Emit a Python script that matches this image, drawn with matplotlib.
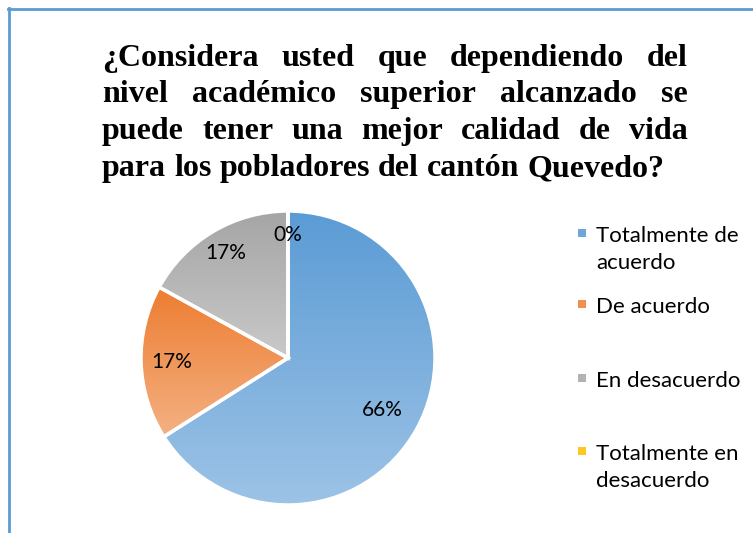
import matplotlib.pyplot as plt
import numpy as np
from matplotlib.colors import LinearSegmentedColormap
from matplotlib.patches import Rectangle
from matplotlib.lines import Line2D

# datos
categorias = ['Totalmente de acuerdo', 'De acuerdo', 'En desacuerdo', 'Totalmente en desacuerdo']
porcentajes = [66, 17, 17, 0]
leyenda_lineas = [['Totalmente de', 'acuerdo'], ['De acuerdo'], ['En desacuerdo'], ['Totalmente en', 'desacuerdo']]
titulo_lineas = ['¿Considera usted que dependiendo del',
                 'nivel académico superior alcanzado se',
                 'puede tener una mejor calidad de vida',
                 'para los pobladores del cantón Quevedo?']

# colores (arriba, abajo) del degradado
degradados = [('#5B9BD5', '#9DC3E6'), ('#ED7D31', '#F4B183'),
              ('#A5A5A5', '#C9C9C9'), ('#FFC000', '#FFD966')]
marcadores = ['#6FA5DA', '#F08F50', '#B3B3B3', '#FFC820']

W, H = 753, 533
fig = plt.figure(figsize=(W / 100, H / 100), dpi=100)

def fx(px):
    return px / W

def fy(py):
    return 1 - py / H

# borde azul
fig.add_artist(Line2D([fx(9), fx(9)], [fy(8), fy(540)], color='#5B9BD5', lw=2))
fig.add_artist(Line2D([fx(8), fx(760)], [fy(9), fy(9)], color='#5B9BD5', lw=2))

# titulo justificado
renderer = fig.canvas.get_renderer()
fuente_titulo = dict(family='Liberation Serif', weight='bold', size=23)
x_izq, x_der = 102, 688
bases = [66, 102, 139, 176]
for i, linea in enumerate(titulo_lineas):
    palabras = linea.split(' ')
    textos = [fig.text(0, fy(bases[i]), p, va='baseline', ha='left', **fuente_titulo) for p in palabras]
    anchos = [t.get_window_extent(renderer).width for t in textos]
    if i < len(titulo_lineas) - 1:
        hueco = (x_der - x_izq - sum(anchos)) / (len(palabras) - 1)
    else:
        esp = fig.text(0, 0, 'a a', **fuente_titulo)
        sin = fig.text(0, 0, 'aa', **fuente_titulo)
        hueco = esp.get_window_extent(renderer).width - sin.get_window_extent(renderer).width
        esp.remove()
        sin.remove()
    x = x_izq
    for t, a in zip(textos, anchos):
        t.set_x(fx(x))
        x += a + hueco

# pastel
cx, cy, r = 288, 358, 147
m = 1.03
ax = fig.add_axes([fx(cx - r * m), fy(cy + r * m), 2 * r * m / W, 2 * r * m / H])
wedges, _ = ax.pie(porcentajes, startangle=90, counterclock=False, radius=1,
                   wedgeprops=dict(facecolor='none', edgecolor='white', linewidth=2.5))
ax.axis('off')

for w, (c1, c2) in zip(wedges, degradados):
    verts = w.get_path().vertices
    if w.theta2 - w.theta1 < 1e-6:
        continue
    x0, x1 = verts[:, 0].min(), verts[:, 0].max()
    y0, y1 = verts[:, 1].min(), verts[:, 1].max()
    cmap = LinearSegmentedColormap.from_list('g', [c2, c1])
    grad = np.linspace(0, 1, 256).reshape(-1, 1)
    im = ax.imshow(grad, cmap=cmap, extent=[x0, x1, y0, y1], origin='lower',
                   aspect='auto', zorder=0.5, interpolation='bicubic')
    im.set_clip_path(w)
    w.set_zorder(1)
ax.set_xlim(-m, m)
ax.set_ylim(-m, m)

distancias = [0.73, 0.79, 0.83, 0.84]
for w, v, d in zip(wedges, porcentajes, distancias):
    ang = np.deg2rad((w.theta1 + w.theta2) / 2)
    ax.text(d * np.cos(ang), d * np.sin(ang), f'{v}%', ha='center', va='center',
            family='Lato', size=15, color='black', zorder=3)

# leyenda
bases_ley = [242, 313, 387, 460]
for lineas, b, col in zip(leyenda_lineas, bases_ley, marcadores):
    fig.add_artist(Rectangle((fx(578), fy(b - 5)), 8 / W, 8 / H, facecolor=col, edgecolor='none'))
    for k, l in enumerate(lineas):
        fig.text(fx(596), fy(b + 27 * k), l, va='baseline', ha='left',
                 family='Lato', size=16, color='black')

fig.savefig('out.png', dpi=100)
